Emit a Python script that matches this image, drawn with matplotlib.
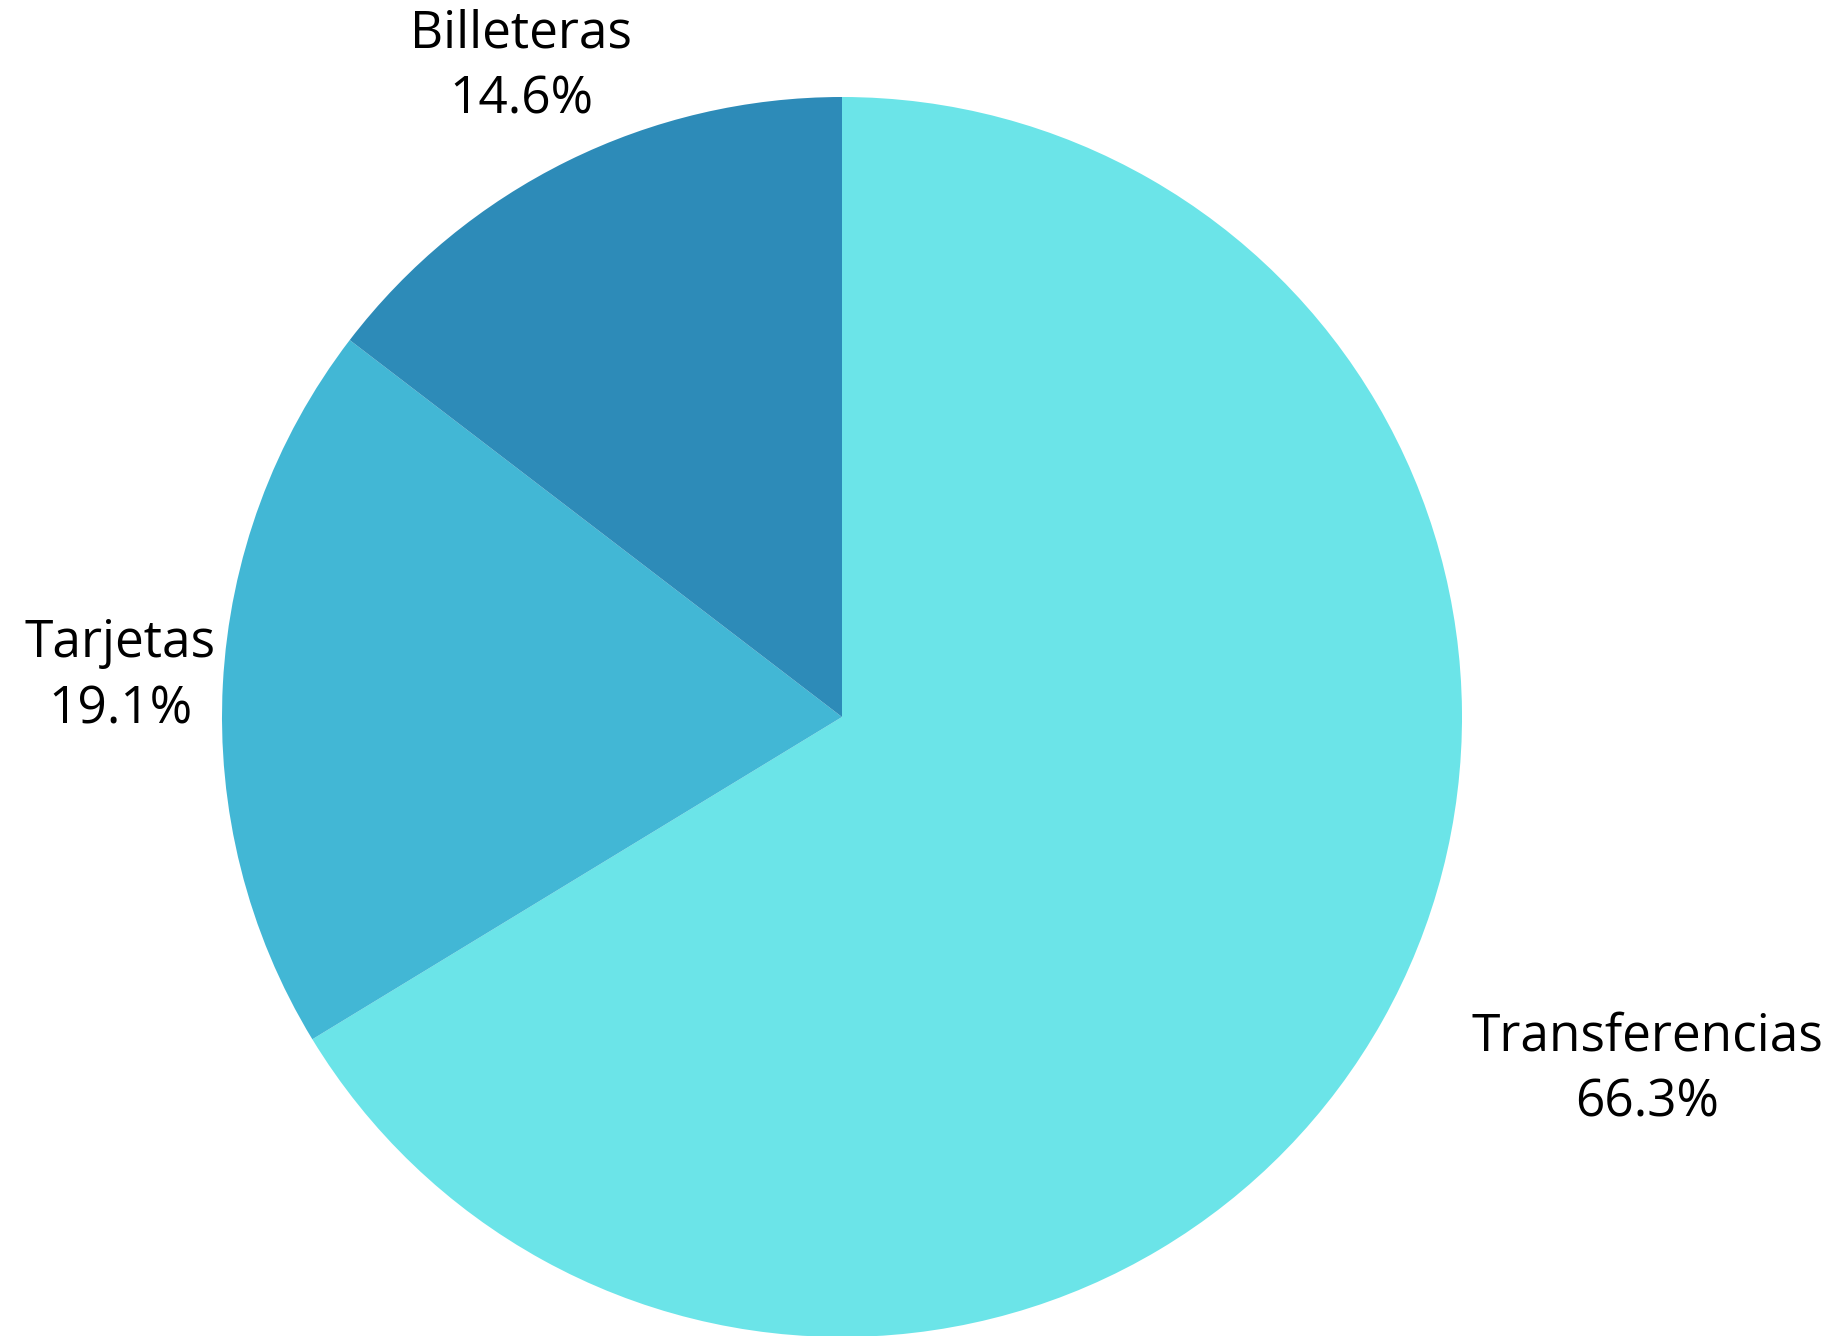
"""
Payment method share pie chart (Transferencias / Tarjetas / Billeteras).
Output: out.png
"""

import matplotlib.pyplot as plt
import matplotlib as mpl

mpl.rcParams.update({"font.family": ["Open Sans", "DejaVu Sans"]})

labels = ["Transferencias", "Tarjetas", "Billeteras"]
shares = [66.3, 19.1, 14.6]
colors = ["#6be4e8", "#42b7d5", "#2d8bb8"]

W, H = 1836, 1336
CENTER = (842, H - 717)
RADIUS = 620
# label anchor points, pixel coords from top-left
label_pos = [(1647, 1070), (120, 677), (521, 67)]


def main():
    fig = plt.figure(figsize=(W / 100, H / 100), dpi=100)
    ax = fig.add_axes([0, 0, 1, 1])

    ax.pie(shares, colors=colors, startangle=90, counterclock=False,
           center=CENTER, radius=RADIUS, frame=True,
           wedgeprops={"linewidth": 0})

    for lab, val, (x, y) in zip(labels, shares, label_pos):
        ax.text(x, H - y, f"{lab}\n{val:.1f}%", ha="center", va="center",
                multialignment="center", fontsize=37, linespacing=1.4,
                color="black")

    ax.set_xlim(0, W)
    ax.set_ylim(0, H)
    ax.set_aspect("equal", adjustable="box")
    ax.axis("off")

    fig.savefig("out.png", dpi=100, facecolor="white")


if __name__ == "__main__":
    main()
